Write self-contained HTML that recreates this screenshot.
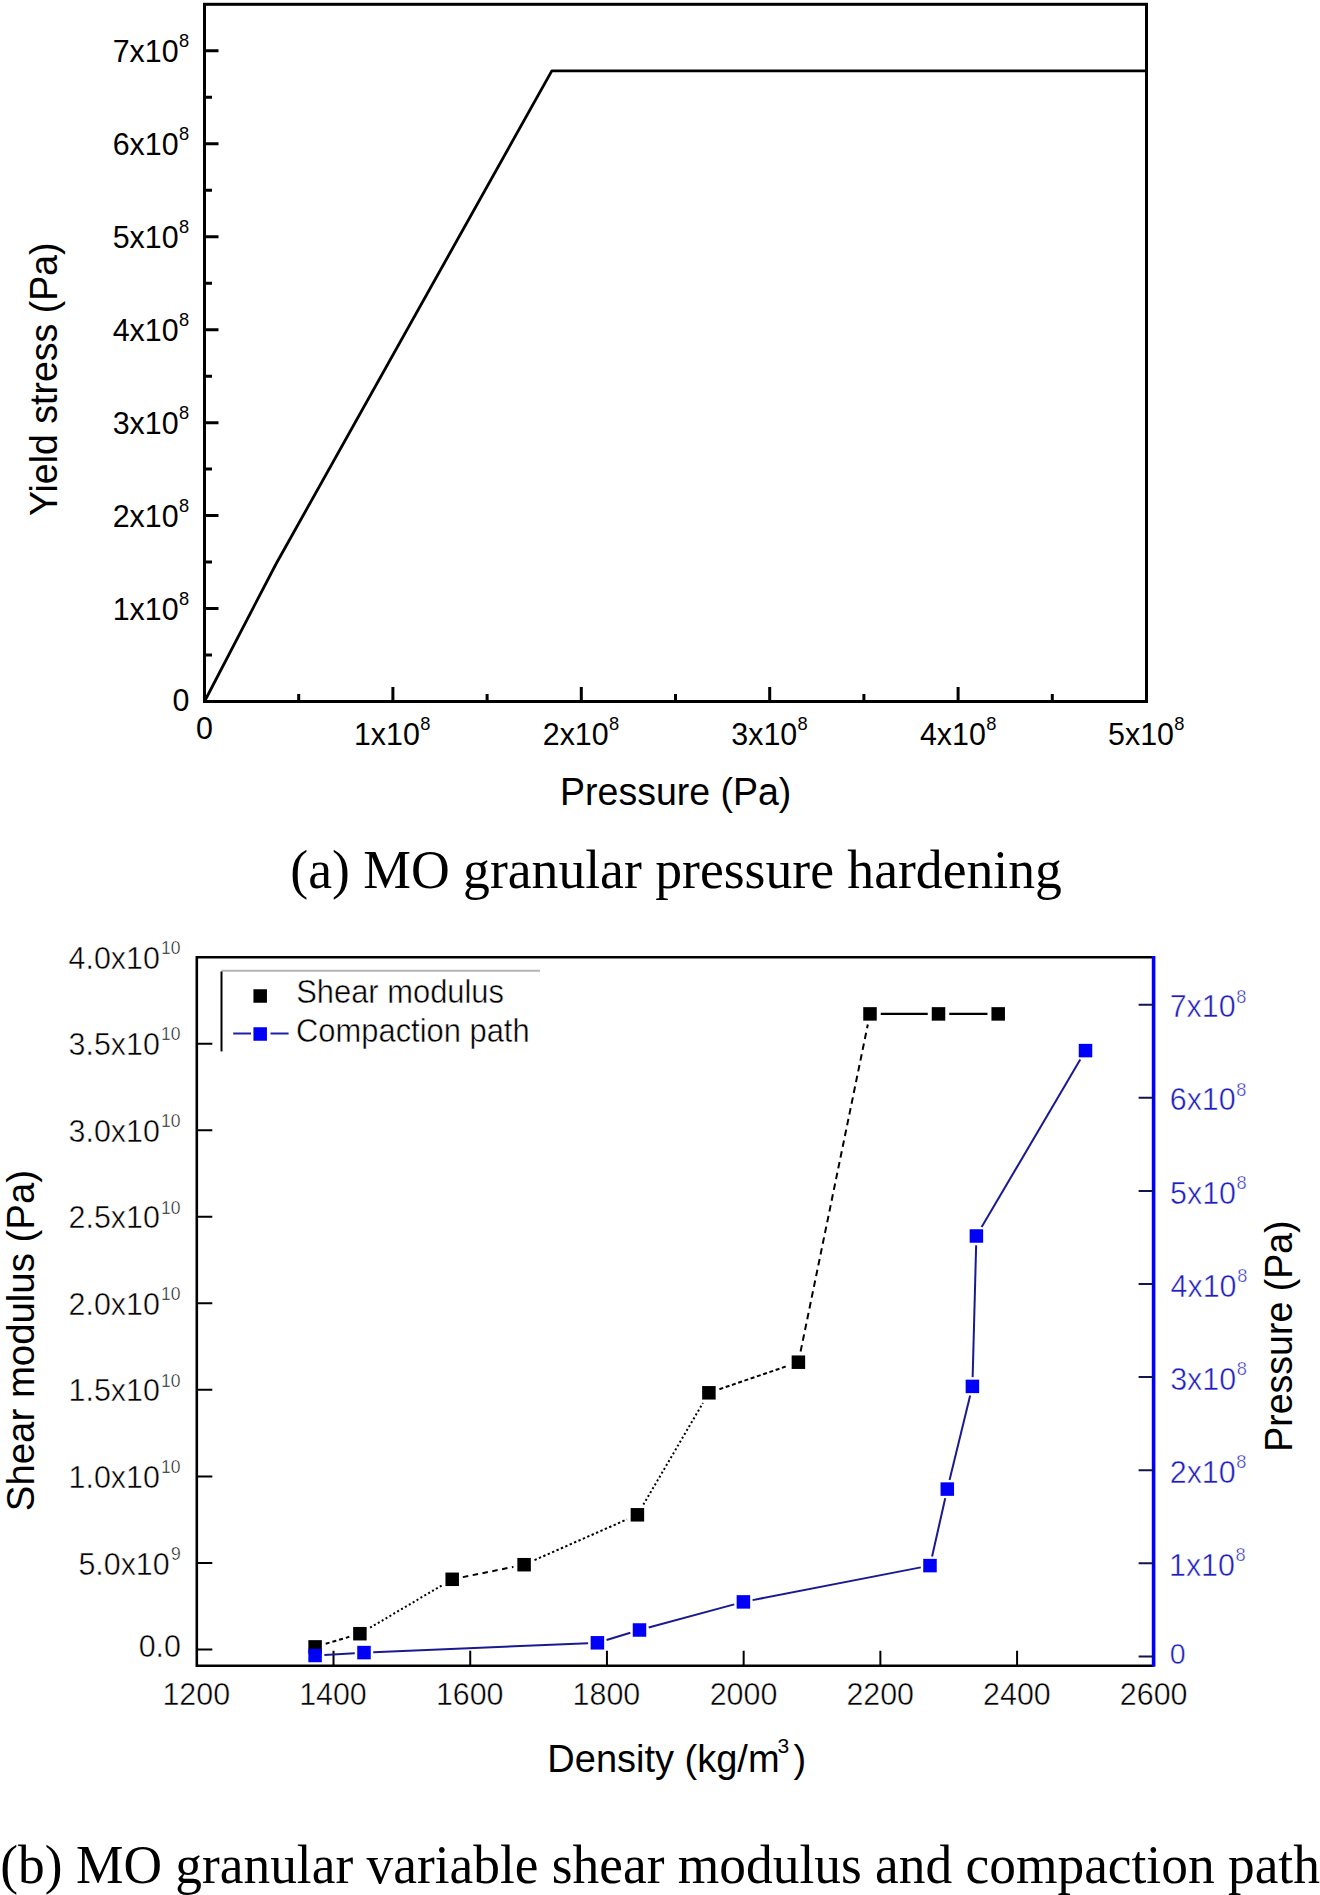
<!DOCTYPE html>
<html><head><meta charset="utf-8"><style>
html,body{margin:0;padding:0;background:#fff;}
svg{display:block;}
.thin text{stroke:#fff;stroke-width:0.45px;}
</style></head><body>
<svg width="1320" height="1895" viewBox="0 0 1320 1895">
<rect width="1320" height="1895" fill="#fff"/>
<g stroke="#000" stroke-width="3" fill="none" stroke-linecap="square">
<rect x="204.5" y="4.3" width="942.0" height="697.2" stroke-linejoin="miter"/>
<path d="M204.5,701.50h14 M204.5,608.55h14 M204.5,515.60h14 M204.5,422.65h14 M204.5,329.70h14 M204.5,236.75h14 M204.5,143.80h14 M204.5,50.85h14 M204.5,655.02h7.5 M204.5,562.08h7.5 M204.5,469.12h7.5 M204.5,376.18h7.5 M204.5,283.22h7.5 M204.5,190.27h7.5 M204.5,97.32h7.5 M392.90,701.5v-14.5 M581.30,701.5v-14.5 M769.70,701.5v-14.5 M958.10,701.5v-14.5 M298.70,701.5v-7.5 M487.10,701.5v-7.5 M675.50,701.5v-7.5 M863.90,701.5v-7.5 M1052.30,701.5v-7.5" stroke-linecap="butt"/>
</g>
<path d="M204.5,701.5 L276,564 L551.8,70.9 L1146.5,70.9" stroke="#000" stroke-width="2.8" fill="none" stroke-linejoin="round"/>
<text transform="translate(172.57,710.50) scale(1,1.05)" font-family="Liberation Sans" font-size="30.4" fill="#000">0</text>
<text transform="translate(112.70,620.15) scale(1,1.05)" font-family="Liberation Sans" font-size="30.4" fill="#000">1x10</text>
<text transform="translate(178.92,604.85) scale(1,1.05)" font-family="Liberation Sans" font-size="18.3" fill="#000">8</text>
<text transform="translate(112.70,527.20) scale(1,1.05)" font-family="Liberation Sans" font-size="30.4" fill="#000">2x10</text>
<text transform="translate(178.92,511.90) scale(1,1.05)" font-family="Liberation Sans" font-size="18.3" fill="#000">8</text>
<text transform="translate(112.70,434.25) scale(1,1.05)" font-family="Liberation Sans" font-size="30.4" fill="#000">3x10</text>
<text transform="translate(178.92,418.95) scale(1,1.05)" font-family="Liberation Sans" font-size="18.3" fill="#000">8</text>
<text transform="translate(112.70,341.30) scale(1,1.05)" font-family="Liberation Sans" font-size="30.4" fill="#000">4x10</text>
<text transform="translate(178.92,326.00) scale(1,1.05)" font-family="Liberation Sans" font-size="18.3" fill="#000">8</text>
<text transform="translate(112.70,248.35) scale(1,1.05)" font-family="Liberation Sans" font-size="30.4" fill="#000">5x10</text>
<text transform="translate(178.92,233.05) scale(1,1.05)" font-family="Liberation Sans" font-size="18.3" fill="#000">8</text>
<text transform="translate(112.70,155.40) scale(1,1.05)" font-family="Liberation Sans" font-size="30.4" fill="#000">6x10</text>
<text transform="translate(178.92,140.10) scale(1,1.05)" font-family="Liberation Sans" font-size="18.3" fill="#000">8</text>
<text transform="translate(112.70,62.45) scale(1,1.05)" font-family="Liberation Sans" font-size="30.4" fill="#000">7x10</text>
<text transform="translate(178.92,47.15) scale(1,1.05)" font-family="Liberation Sans" font-size="18.3" fill="#000">8</text>
<text transform="translate(196.03,739.40) scale(1,1.05)" font-family="Liberation Sans" font-size="30.4" fill="#000">0</text>
<text transform="translate(353.96,745.10) scale(1,1.05)" font-family="Liberation Sans" font-size="30.4" fill="#000">1x10</text>
<text transform="translate(420.18,729.80) scale(1,1.05)" font-family="Liberation Sans" font-size="18.3" fill="#000">8</text>
<text transform="translate(542.74,745.10) scale(1,1.05)" font-family="Liberation Sans" font-size="30.4" fill="#000">2x10</text>
<text transform="translate(608.96,729.80) scale(1,1.05)" font-family="Liberation Sans" font-size="18.3" fill="#000">8</text>
<text transform="translate(731.33,745.10) scale(1,1.05)" font-family="Liberation Sans" font-size="30.4" fill="#000">3x10</text>
<text transform="translate(797.55,729.80) scale(1,1.05)" font-family="Liberation Sans" font-size="18.3" fill="#000">8</text>
<text transform="translate(919.96,745.10) scale(1,1.05)" font-family="Liberation Sans" font-size="30.4" fill="#000">4x10</text>
<text transform="translate(986.18,729.80) scale(1,1.05)" font-family="Liberation Sans" font-size="18.3" fill="#000">8</text>
<text transform="translate(1108.09,745.10) scale(1,1.05)" font-family="Liberation Sans" font-size="30.4" fill="#000">5x10</text>
<text transform="translate(1174.31,729.80) scale(1,1.05)" font-family="Liberation Sans" font-size="18.3" fill="#000">8</text>
<text transform="translate(560.08,804.50) scale(1,1.04)" font-family="Liberation Sans" font-size="37.5" fill="#000">Pressure (Pa)</text>
<text transform="translate(56.7,516.08) rotate(-90) scale(1,1.04)" font-family="Liberation Sans" font-size="37.5" fill="#000">Yield stress (Pa)</text>
<text transform="translate(290.29,888.30) scale(1,1.03)" font-family="Liberation Serif" font-size="53.65" fill="#000">(a) MO granular pressure hardening</text>
<g fill="none" stroke-linecap="butt">
<path d="M1152.1,957.2 H196.8 V1665.8 H1153.6" stroke="#000" stroke-width="2.6" stroke-linejoin="miter"/>
<path d="M1153.6,955.9000000000001 V1666.8" stroke="#0000ff" stroke-width="3.6"/>
<path d="M196.8,1649.50h15.5 M196.8,1562.95h15.5 M196.8,1476.40h15.5 M196.8,1389.85h15.5 M196.8,1303.30h15.5 M196.8,1216.75h15.5 M196.8,1130.20h15.5 M196.8,1043.65h15.5 M196.8,957.10h15.5 M333.51,1665.8v-15 M470.23,1665.8v-15 M606.94,1665.8v-15 M743.66,1665.8v-15 M880.37,1665.8v-15 M1017.08,1665.8v-15" stroke="#000" stroke-width="2"/>
<path d="M1153.6,1656.40h-15 M1153.6,1563.30h-15 M1153.6,1470.20h-15 M1153.6,1377.10h-15 M1153.6,1284.00h-15 M1153.6,1190.90h-15 M1153.6,1097.80h-15 M1153.6,1004.70h-15" stroke="#15154a" stroke-width="2"/>
</g>
<path d="M221.5,970.7 H539.9" stroke="#b4b4b4" stroke-width="2"/>
<path d="M221.5,971.5 V1051.4" stroke="#000" stroke-width="2"/>
<path d="M325.69,1643.78 L349.31,1636.82" stroke="#000" stroke-width="2" stroke-dasharray="4 3"/>
<path d="M370.10,1627.69 L442.00,1585.31" stroke="#000" stroke-width="2" stroke-dasharray="2 2.5"/>
<path d="M462.87,1577.13 L513.43,1566.87" stroke="#000" stroke-width="2" stroke-dasharray="5.5 4.5"/>
<path d="M534.51,1560.11 L626.99,1519.39" stroke="#000" stroke-width="2" stroke-dasharray="2.4 2.4"/>
<path d="M643.38,1504.60 L702.92,1403.00" stroke="#000" stroke-width="2" stroke-dasharray="2 2.5"/>
<path d="M719.43,1389.20 L787.87,1365.80" stroke="#000" stroke-width="2" stroke-dasharray="4 2.6"/>
<path d="M800.59,1351.53 L867.81,1024.57" stroke="#000" stroke-width="2" stroke-dasharray="6.5 4.5"/>
<path d="M880.75,1013.90 L927.75,1013.90" stroke="#000" stroke-width="2.2"/>
<path d="M949.25,1013.90 L987.45,1013.90" stroke="#000" stroke-width="2.2"/>
<rect x="308.35" y="1640.15" width="13.5" height="13.5" fill="#000"/>
<rect x="353.15" y="1626.95" width="13.5" height="13.5" fill="#000"/>
<rect x="445.45" y="1572.55" width="13.5" height="13.5" fill="#000"/>
<rect x="517.35" y="1557.95" width="13.5" height="13.5" fill="#000"/>
<rect x="630.65" y="1508.05" width="13.5" height="13.5" fill="#000"/>
<rect x="702.15" y="1386.05" width="13.5" height="13.5" fill="#000"/>
<rect x="791.65" y="1355.45" width="13.5" height="13.5" fill="#000"/>
<rect x="863.25" y="1007.15" width="13.5" height="13.5" fill="#000"/>
<rect x="931.75" y="1007.15" width="13.5" height="13.5" fill="#000"/>
<rect x="991.45" y="1007.15" width="13.5" height="13.5" fill="#000"/>
<path d="M324.35,1654.95 L354.75,1653.15" stroke="#1a1a90" stroke-width="2"/>
<path d="M373.25,1652.21 L588.15,1643.19" stroke="#1a1a90" stroke-width="2"/>
<path d="M606.54,1640.02 L630.36,1632.78" stroke="#1a1a90" stroke-width="2"/>
<path d="M648.66,1627.52 L734.24,1604.38" stroke="#1a1a90" stroke-width="2"/>
<path d="M752.60,1600.11 L920.80,1567.39" stroke="#1a1a90" stroke-width="2"/>
<path d="M932.08,1556.41 L945.22,1498.29" stroke="#1a1a90" stroke-width="2"/>
<path d="M949.54,1479.92 L970.16,1395.58" stroke="#1a1a90" stroke-width="2"/>
<path d="M972.65,1377.15 L976.15,1245.25" stroke="#1a1a90" stroke-width="2"/>
<path d="M981.64,1227.10 L1080.26,1059.50" stroke="#1a1a90" stroke-width="2"/>
<rect x="308.35" y="1648.75" width="13.5" height="13.5" fill="#0000f8"/>
<rect x="357.25" y="1645.85" width="13.5" height="13.5" fill="#0000f8"/>
<rect x="590.65" y="1636.05" width="13.5" height="13.5" fill="#0000f8"/>
<rect x="632.75" y="1623.25" width="13.5" height="13.5" fill="#0000f8"/>
<rect x="736.65" y="1595.15" width="13.5" height="13.5" fill="#0000f8"/>
<rect x="923.25" y="1558.85" width="13.5" height="13.5" fill="#0000f8"/>
<rect x="940.55" y="1482.35" width="13.5" height="13.5" fill="#0000f8"/>
<rect x="965.65" y="1379.65" width="13.5" height="13.5" fill="#0000f8"/>
<rect x="969.65" y="1229.25" width="13.5" height="13.5" fill="#0000f8"/>
<rect x="1078.75" y="1043.85" width="13.5" height="13.5" fill="#0000f8"/>
<rect x="253.45" y="989.25" width="13.5" height="13.5" fill="#000"/>
<path d="M233.2,1033.6 H251 M270.5,1033.6 H288.6" stroke="#2020b0" stroke-width="2"/>
<rect x="253.45" y="1027.25" width="13.5" height="13.5" fill="#0000f8"/>
<g class="thin">
<text transform="translate(296.21,1003.00) scale(1,1.05)" font-family="Liberation Sans" font-size="30.9" fill="#000">Shear modulus</text>
<text transform="translate(296.06,1041.50) scale(1,1.05)" font-family="Liberation Sans" font-size="30.9" fill="#000">Compaction path</text>
<text transform="translate(138.68,1656.90) scale(1,1.05)" font-family="Liberation Sans" font-size="30.4" fill="#000">0.0</text>
<text transform="translate(78.40,1574.55) scale(1,1.05)" font-family="Liberation Sans" font-size="30.4" fill="#000">5.0x10</text>
<text transform="translate(170.88,1559.75) scale(1,1.05)" font-family="Liberation Sans" font-size="17.5" fill="#000">9</text>
<text transform="translate(68.55,1488.00) scale(1,1.05)" font-family="Liberation Sans" font-size="30.4" fill="#000">1.0x10</text>
<text transform="translate(161.03,1473.20) scale(1,1.05)" font-family="Liberation Sans" font-size="17.5" fill="#000">10</text>
<text transform="translate(68.55,1401.45) scale(1,1.05)" font-family="Liberation Sans" font-size="30.4" fill="#000">1.5x10</text>
<text transform="translate(161.03,1386.65) scale(1,1.05)" font-family="Liberation Sans" font-size="17.5" fill="#000">10</text>
<text transform="translate(68.55,1314.90) scale(1,1.05)" font-family="Liberation Sans" font-size="30.4" fill="#000">2.0x10</text>
<text transform="translate(161.03,1300.10) scale(1,1.05)" font-family="Liberation Sans" font-size="17.5" fill="#000">10</text>
<text transform="translate(68.55,1228.35) scale(1,1.05)" font-family="Liberation Sans" font-size="30.4" fill="#000">2.5x10</text>
<text transform="translate(161.03,1213.55) scale(1,1.05)" font-family="Liberation Sans" font-size="17.5" fill="#000">10</text>
<text transform="translate(68.55,1141.80) scale(1,1.05)" font-family="Liberation Sans" font-size="30.4" fill="#000">3.0x10</text>
<text transform="translate(161.03,1127.00) scale(1,1.05)" font-family="Liberation Sans" font-size="17.5" fill="#000">10</text>
<text transform="translate(68.55,1055.25) scale(1,1.05)" font-family="Liberation Sans" font-size="30.4" fill="#000">3.5x10</text>
<text transform="translate(161.03,1040.45) scale(1,1.05)" font-family="Liberation Sans" font-size="17.5" fill="#000">10</text>
<text transform="translate(68.55,968.70) scale(1,1.05)" font-family="Liberation Sans" font-size="30.4" fill="#000">4.0x10</text>
<text transform="translate(161.03,953.90) scale(1,1.05)" font-family="Liberation Sans" font-size="17.5" fill="#000">10</text>
<text transform="translate(1169.86,1664.30) scale(1,1.05)" font-family="Liberation Sans" font-size="28.5" fill="#1e1ebe">0</text>
<text transform="translate(1169.02,1575.90) scale(1,1.05)" font-family="Liberation Sans" font-size="30.4" fill="#1e1ebe">1x10</text>
<text transform="translate(1235.54,1561.10) scale(1,1.05)" font-family="Liberation Sans" font-size="18.3" fill="#1e1ebe">8</text>
<text transform="translate(1169.78,1482.80) scale(1,1.05)" font-family="Liberation Sans" font-size="30.4" fill="#1e1ebe">2x10</text>
<text transform="translate(1236.30,1468.00) scale(1,1.05)" font-family="Liberation Sans" font-size="18.3" fill="#1e1ebe">8</text>
<text transform="translate(1170.16,1389.70) scale(1,1.05)" font-family="Liberation Sans" font-size="30.4" fill="#1e1ebe">3x10</text>
<text transform="translate(1236.68,1374.90) scale(1,1.05)" font-family="Liberation Sans" font-size="18.3" fill="#1e1ebe">8</text>
<text transform="translate(1170.62,1296.60) scale(1,1.05)" font-family="Liberation Sans" font-size="30.4" fill="#1e1ebe">4x10</text>
<text transform="translate(1237.14,1281.80) scale(1,1.05)" font-family="Liberation Sans" font-size="18.3" fill="#1e1ebe">8</text>
<text transform="translate(1170.08,1203.50) scale(1,1.05)" font-family="Liberation Sans" font-size="30.4" fill="#1e1ebe">5x10</text>
<text transform="translate(1236.61,1188.70) scale(1,1.05)" font-family="Liberation Sans" font-size="18.3" fill="#1e1ebe">8</text>
<text transform="translate(1169.78,1110.40) scale(1,1.05)" font-family="Liberation Sans" font-size="30.4" fill="#1e1ebe">6x10</text>
<text transform="translate(1236.30,1095.60) scale(1,1.05)" font-family="Liberation Sans" font-size="18.3" fill="#1e1ebe">8</text>
<text transform="translate(1169.70,1017.30) scale(1,1.05)" font-family="Liberation Sans" font-size="30.4" fill="#1e1ebe">7x10</text>
<text transform="translate(1236.23,1002.50) scale(1,1.05)" font-family="Liberation Sans" font-size="18.3" fill="#1e1ebe">8</text>
<text transform="translate(162.45,1705.00) scale(1,1.05)" font-family="Liberation Sans" font-size="30.4" fill="#000">1200</text>
<text transform="translate(299.16,1705.00) scale(1,1.05)" font-family="Liberation Sans" font-size="30.4" fill="#000">1400</text>
<text transform="translate(435.88,1705.00) scale(1,1.05)" font-family="Liberation Sans" font-size="30.4" fill="#000">1600</text>
<text transform="translate(572.59,1705.00) scale(1,1.05)" font-family="Liberation Sans" font-size="30.4" fill="#000">1800</text>
<text transform="translate(709.68,1705.00) scale(1,1.05)" font-family="Liberation Sans" font-size="30.4" fill="#000">2000</text>
<text transform="translate(846.40,1705.00) scale(1,1.05)" font-family="Liberation Sans" font-size="30.4" fill="#000">2200</text>
<text transform="translate(983.11,1705.00) scale(1,1.05)" font-family="Liberation Sans" font-size="30.4" fill="#000">2400</text>
<text transform="translate(1119.83,1705.00) scale(1,1.05)" font-family="Liberation Sans" font-size="30.4" fill="#000">2600</text>
</g>
<text transform="translate(547.37,1772.30) scale(1,1.03)" font-family="Liberation Sans" font-size="38" fill="#000">Density (kg/m</text>
<text transform="translate(777.61,1752.60)" font-family="Liberation Sans" font-size="21" fill="#000">3</text>
<text transform="translate(793.51,1772.30) scale(1,1.03)" font-family="Liberation Sans" font-size="38" fill="#000">)</text>
<text transform="translate(33.8,1511.13) rotate(-90) scale(1.0233,1.04)" font-family="Liberation Sans" font-size="37.5" fill="#000">Shear modulus (Pa)</text>
<text transform="translate(1292,1451.77) rotate(-90) scale(1,1.04)" font-family="Liberation Sans" font-size="37.5" fill="#000">Pressure (Pa)</text>
<text transform="translate(0.30,1883.2) scale(0.9954,1.03)" font-family="Liberation Serif" font-size="53.65" fill="#000">(b) MO granular variable shear modulus and compaction path</text>
</svg>
</body></html>
